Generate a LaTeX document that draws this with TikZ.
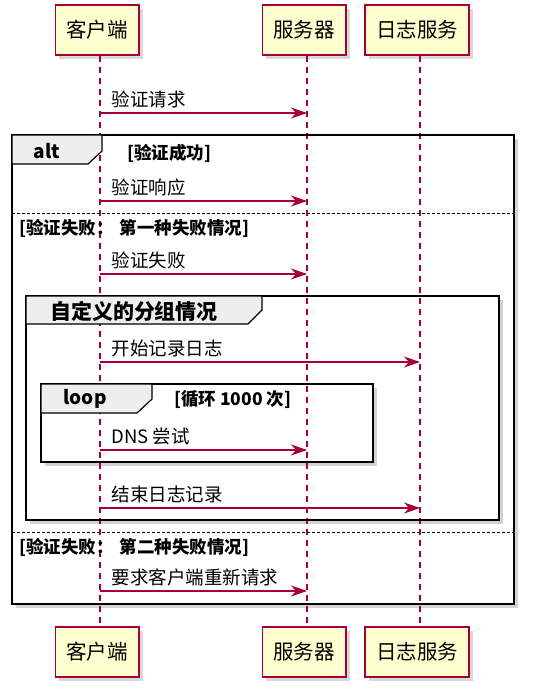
\documentclass[tikz,border=0pt]{standalone}
\usepackage{fontspec}
\setmainfont{Noto Sans CJK SC}
\usepackage{xcolor}
\usepackage{tikz}
\usetikzlibrary{arrows.meta,positioning,shadows}

\definecolor{umlred}{HTML}{A80036}
\definecolor{umlyellow}{HTML}{FEFECE}
\definecolor{tabgray}{HTML}{EEEEEE}

\begin{document}
\begin{tikzpicture}[
  x=1pt, y=-1pt,
  actor/.style={rectangle, draw=umlred, fill=umlyellow, line width=1.5pt, inner xsep=11pt, minimum height=50pt, font=\fontsize{20.5}{24}\selectfont, drop shadow={shadow xshift=4pt, shadow yshift=-4pt, opacity=0.3}},
  lifeline/.style={draw=umlred, line width=1.1pt, dash pattern=on 6pt off 5pt},
  msg/.style={draw=umlred, line width=1.1pt, -{Stealth[length=16pt, width=11pt, inset=5pt]}},
  msglabel/.style={anchor=base west, inner sep=0pt, xshift=11pt, yshift=7pt, font=\fontsize{18.5}{21}\selectfont},
  frameback/.style={fill=white, drop shadow={shadow xshift=4pt, shadow yshift=-4pt, opacity=0.35}},
  frameline/.style={draw=black, line width=2.6pt},
  tabbox/.style={draw=black, fill=tabgray, line width=1.2pt},
  tablabel/.style={font=\bfseries\fontsize{19}{22}\selectfont, inner sep=0pt},
  guard/.style={anchor=west, inner sep=0pt, font=\bfseries\fontsize{17.5}{20}\selectfont},
  separator/.style={draw=black, line width=1pt, dash pattern=on 2.5pt off 2.5pt}
]
\useasboundingbox (0,0) rectangle (533,694);

% frame backgrounds
\path[frameback] (12,135) rectangle (514,604);
\path[frameback] (26,296) rectangle (499,520);
\path[frameback] (41,384) rectangle (373,462);

% participants
\node[actor] (client) at (97,30) {客户端};
\node[actor] (server) at (304,30) {服务器};
\node[actor] (logsvc) at (417,30) {日志服务};
\node[actor] (clientb) at (97,652) {客户端};
\node[actor] (serverb) at (304,652) {服务器};
\node[actor] (logsvcb) at (417,652) {日志服务};

% lifelines
\draw[lifeline] ([xshift=3pt]client.south) -- ([xshift=3pt]clientb.north);
\draw[lifeline] ([xshift=3pt]server.south) -- ([xshift=3pt]serverb.north);
\draw[lifeline] ([xshift=3pt]logsvc.south) -- ([xshift=3pt]logsvcb.north);

% frames
\draw[frameline] (12,135) rectangle (514,604);
\draw[frameline] (26,296) rectangle (499,520);
\draw[frameline] (41,384) rectangle (373,462);
\draw[tabbox] (12,135) -- (102,135) -- (102,151) -- (88,164) -- (12,164) -- cycle;
\draw[tabbox] (26,296) -- (262,296) -- (262,310) -- (248,324) -- (26,324) -- cycle;
\draw[tabbox] (41,384) -- (152,384) -- (152,399) -- (137,413) -- (41,413) -- cycle;
\node[tablabel] (alttab) at (47,151) {alt};
\node[tablabel, font=\bfseries\fontsize{21}{24}\selectfont] (grouptab) at (134,311) {自定义的分组情况};
\node[tablabel] (looptab) at (85,399) {loop};

% guards and separators
\node[guard] (okguard) at (127,153) {[验证成功]};
\node[guard] (fail1) at (19,228) {[验证失败：\hspace{6pt}第一种失败情况]};
\node[guard] (loopguard) at (174,400) {[循环 1000 次]};
\node[guard] (fail2) at (19,547) {[验证失败：\hspace{6pt}第二种失败情况]};
\draw[separator] (12,213) -- (514,213);
\draw[separator] (12,532) -- (514,532);

% message points
\coordinate (c1) at (100,113); \coordinate (s1) at (307,113);
\coordinate (c2) at (100,201); \coordinate (s2) at (307,201);
\coordinate (c3) at (100,274); \coordinate (s3) at (307,274);
\coordinate (c4) at (100,362); \coordinate (l4) at (420,362);
\coordinate (c5) at (100,450); \coordinate (s5) at (307,450);
\coordinate (c6) at (100,508); \coordinate (l6) at (420,508);
\coordinate (c7) at (100,591); \coordinate (s7) at (307,591);

% messages
\draw[msg] (c1) -- (s1) node[pos=0, msglabel] {验证请求};
\draw[msg] (c2) -- (s2) node[pos=0, msglabel] {验证响应};
\draw[msg] (c3) -- (s3) node[pos=0, msglabel] {验证失败};
\draw[msg] (c4) -- (l4) node[pos=0, msglabel] {开始记录日志};
\draw[msg] (c5) -- (s5) node[pos=0, msglabel] {DNS 尝试};
\draw[msg] (c6) -- (l6) node[pos=0, msglabel] {结束日志记录};
\draw[msg] (c7) -- (s7) node[pos=0, msglabel] {要求客户端重新请求};

\end{tikzpicture}
\end{document}
